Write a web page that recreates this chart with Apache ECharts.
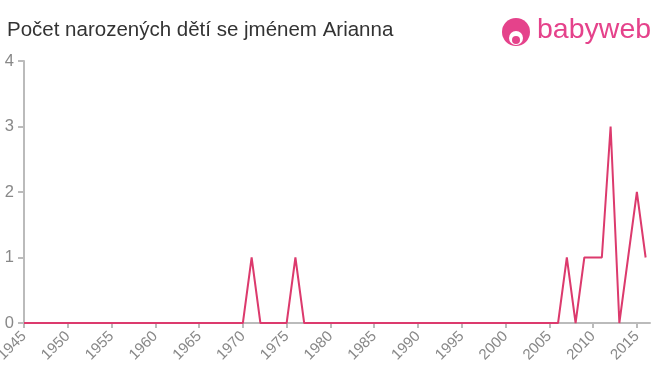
<!DOCTYPE html>
<html><head><meta charset="utf-8">
<script src="https://cdn.jsdelivr.net/npm/echarts@6/dist/echarts.min.js"></script>
<style>html,body{margin:0;padding:0;background:#fff}#c{width:660px;height:375px}</style>
</head><body><div id="c"></div>
<script>
const titleText = 'Počet narozených dětí se jménem Arianna';
const years = [1945,1946,1947,1948,1949,1950,1951,1952,1953,1954,1955,1956,1957,1958,1959,1960,1961,1962,1963,1964,1965,1966,1967,1968,1969,1970,1971,1972,1973,1974,1975,1976,1977,1978,1979,1980,1981,1982,1983,1984,1985,1986,1987,1988,1989,1990,1991,1992,1993,1994,1995,1996,1997,1998,1999,2000,2001,2002,2003,2004,2005,2006,2007,2008,2009,2010,2011,2012,2013,2014,2015,2016];
const counts = [0,0,0,0,0,0,0,0,0,0,0,0,0,0,0,0,0,0,0,0,0,0,0,0,0,0,1,0,0,0,0,1,0,0,0,0,0,0,0,0,0,0,0,0,0,0,0,0,0,0,0,0,0,0,0,0,0,0,0,0,0,0,1,0,1,1,1,3,0,1,2,1];
const xTicks = [1945,1950,1955,1960,1965,1970,1975,1980,1985,1990,1995,2000,2005,2010,2015];
const yTicks = [0,1,2,3,4];

const chart = echarts.init(document.getElementById('c'));
chart.setOption({
  animation: false,
  title: {text: titleText, left: 7, top: 20, padding: 0, textStyle: {fontFamily: 'Liberation Sans, Arial, sans-serif', fontSize: 20.5, fontWeight: 'normal', color: '#333'}},
  grid: {left: 24, top: 61, right: 10, bottom: 52, containLabel: false, outerBoundsMode: 'none'},
  xAxis: {
    type: 'value', min: 1945, max: 2016.5, interval: 5,
    axisLine: {lineStyle: {color: '#bbb', width: 2}},
    axisTick: {show: true, customValues: xTicks, length: 5, lineStyle: {color: '#bbb', width: 2}},
    axisLabel: {customValues: xTicks, formatter: v => String(v), rotate: 45, color: '#888', fontSize: 15, fontFamily: 'Liberation Sans, Arial, sans-serif', margin: 11},
    splitLine: {show: false}
  },
  yAxis: {
    type: 'value', min: 0, max: 4, interval: 1,
    axisLine: {show: true, lineStyle: {color: '#bbb', width: 2}},
    axisTick: {show: true, length: 6, lineStyle: {color: '#bbb', width: 2}},
    axisLabel: {color: '#888', fontSize: 16.5, fontFamily: 'Liberation Sans, Arial, sans-serif', margin: 10},
    splitLine: {show: false}
  },
  series: [{
    type: 'line', data: years.map((y, i) => [y, counts[i]]),
    symbol: 'none', lineStyle: {color: '#dc3a6d', width: 2}, z: 5
  }],
  graphic: [
    {type: 'circle', shape: {cx: 516, cy: 32, r: 14}, style: {fill: '#e5428b'}},
    {type: 'circle', shape: {cx: 516, cy: 38, r: 7}, style: {fill: '#fff'}},
    {type: 'circle', shape: {cx: 516, cy: 40, r: 4}, style: {fill: '#e5428b'}},
    {type: 'text', left: 537, top: 16, style: {text: 'babyweb', fill: '#e5428b', fontSize: 28.5, fontFamily: 'Liberation Sans, Arial, sans-serif'}}
  ]
});
</script></body></html>
